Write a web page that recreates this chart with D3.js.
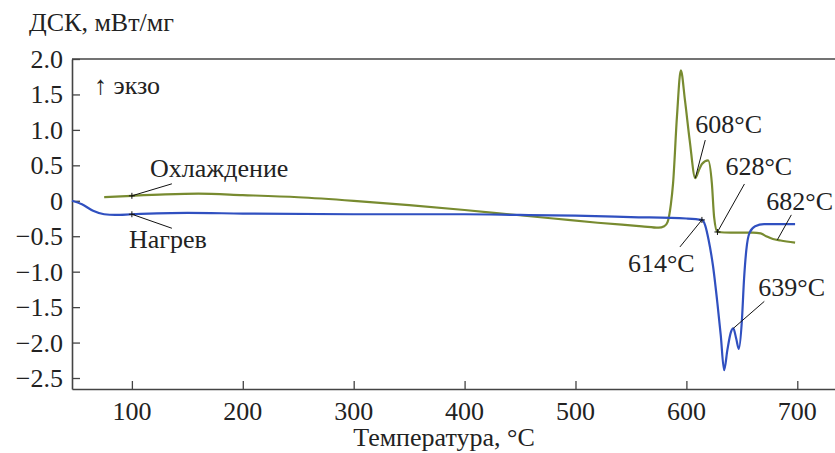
<!DOCTYPE html>
<html>
<head>
<meta charset="utf-8">
<script src="https://cdn.jsdelivr.net/npm/d3@7"></script>
<style>
  body { margin: 0; background: #fff; }
  text { fill: #222; }
</style>
</head>
<body>
<div id="chart"></div>
<script>
// cooling curve (green), temperature in °C and DSC signal in mW/mg
const coolT = [75, 100, 130, 160, 200, 250, 300, 350, 400, 440, 480, 520, 560, 575, 580, 583, 586, 588, 591.5, 595, 598.7, 603, 608, 611, 614, 619.6, 623, 625, 628, 640, 660, 667, 672, 678, 685, 698]
const coolV = [0.05, 0.07, 0.09, 0.1, 0.08, 0.05, 0.0, -0.06, -0.13, -0.19, -0.25, -0.31, -0.36, -0.38, -0.36, -0.3, -0.05, 0.25, 1.19, 1.84, 1.42, 0.85, 0.32, 0.42, 0.52, 0.57, 0.24, -0.23, -0.44, -0.45, -0.45, -0.46, -0.5, -0.54, -0.56, -0.59]

// heating curve (blue)
const heatT = [46, 55, 65, 75, 85, 100, 150, 200, 300, 400, 450, 500, 550, 600, 614, 617, 620, 624, 628, 631, 634, 637, 640, 642.3, 645, 647.3, 650, 652, 654, 657, 662, 670, 698]
const heatV = [0.0, -0.05, -0.14, -0.19, -0.2, -0.19, -0.17, -0.18, -0.19, -0.19, -0.2, -0.21, -0.23, -0.25, -0.27, -0.35, -0.55, -0.92, -1.45, -1.9, -2.39, -2.1, -1.86, -1.8, -1.95, -2.09, -1.7, -1.1, -0.7, -0.45, -0.36, -0.33, -0.33]

const xTicks = [100, 200, 300, 400, 500, 600, 700]
const yTicks = [2.0, 1.5, 1.0, 0.5, 0, -0.5, -1.0, -1.5, -2.0, -2.5]

// point labels: [curve, temperature, text]
const peakLabels = [
  ['cool', 608, '608°C'],
  ['cool', 628, '628°C'],
  ['cool', 682, '682°C'],
  ['heat', 614, '614°C'],
  ['heat', 642.3, '639°C']
]

const width = 835, height = 453
const margin = {top: 59, right: 0, bottom: 64, left: 72}
const font = '"Liberation Serif"'
const fs = 26

const svg = d3.select('#chart').append('svg')
  .attr('width', width)
  .attr('height', height)

const x = d3.scaleLinear().domain([46, 734]).range([margin.left, width - margin.right])
const y = d3.scaleLinear().domain([-2.655, 2.0]).range([height - margin.bottom, margin.top])

const fmtY = d => d === 0 ? '0' : d3.format('.1f')(d).replace('-', '\u2212')

// axes, tick labels are drawn as own texts below
const gx = svg.append('g')
  .attr('transform', `translate(0,${height - margin.bottom})`)
  .call(d3.axisBottom(x).tickValues(xTicks).tickFormat('').tickSizeInner(-8).tickSizeOuter(0))
const gy = svg.append('g')
  .attr('transform', `translate(${margin.left},0)`)
  .call(d3.axisLeft(y).tickValues(yTicks).tickFormat('').tickSizeInner(-8).tickSizeOuter(0))

;[gx, gy].forEach(g => {
  g.selectAll('.domain').attr('stroke', '#444').attr('stroke-width', 1.6)
  g.selectAll('.tick line').attr('stroke', '#444').attr('stroke-width', 1.3)
  g.selectAll('.tick text').remove()
})

function addText(tx, ty, str, anchor) {
  return svg.append('text')
    .attr('x', tx).attr('y', ty)
    .attr('text-anchor', anchor || 'start')
    .attr('font-size', fs)
    .style('font-family', font)
    .text(str)
}

xTicks.forEach(t => addText(x(t), height - margin.bottom + 31, String(t), 'middle'))
yTicks.forEach(v => addText(margin.left - 9, y(v) + 9, fmtY(v), 'end'))

// top frame line
svg.append('line')
  .attr('x1', margin.left).attr('x2', width)
  .attr('y1', y(2.0)).attr('y2', y(2.0))
  .attr('stroke', '#444').attr('stroke-width', 1.6)

const coolData = coolT.map((t, i) => ({t: t, v: coolV[i]}))
const heatData = heatT.map((t, i) => ({t: t, v: heatV[i]}))

const line = d3.line()
  .x(d => x(d.t))
  .y(d => y(d.v))
  .curve(d3.curveMonotoneX)

svg.append('path').datum(coolData)
  .attr('d', line)
  .attr('fill', 'none')
  .attr('stroke', '#788b30')
  .attr('stroke-width', 2.2)

svg.append('path').datum(heatData)
  .attr('d', line)
  .attr('fill', 'none')
  .attr('stroke', '#3050c0')
  .attr('stroke-width', 2.2)

function valueAt(data, t) {
  const i = d3.bisector(d => d.t).left(data, t)
  if (i <= 0) return data[0].v
  if (i >= data.length) return data[data.length - 1].v
  const a = data[i - 1], b = data[i]
  return a.v + (b.v - a.v) * (t - a.t) / (b.t - a.t)
}

// text placement offsets (px) relative to the marked point
const labelPos = {
  '608°C': {dx: 10, dy: -38, tx: 0, ty: -45},
  '628°C': {dx: 27, dy: -48, tx: 8, ty: -57},
  '682°C': {dx: 14, dy: -25, tx: -11, ty: -30},
  '614°C': {dx: -22, dy: 27, tx: -74, ty: 52},
  '639°C': {dx: 31, dy: -27, tx: 25, ty: -32}
}

peakLabels.forEach(([curve, t, label]) => {
  const data = curve === 'cool' ? coolData : heatData
  const px = x(t), py = y(valueAt(data, t))
  const p = labelPos[label]
  svg.append('line')
    .attr('x1', px).attr('y1', py)
    .attr('x2', px + p.dx).attr('y2', py + p.dy)
    .attr('stroke', '#111').attr('stroke-width', 1)
  addText(px + p.tx, py + p.ty, label)
})

// small cross markers at 100 °C and onsets
const marks = [[coolData, 100], [heatData, 100], [heatData, 614], [coolData, 628]]
marks.forEach(([data, t]) => {
  const px = x(t), py = y(valueAt(data, t))
  svg.append('path')
    .attr('d', `M${px - 3},${py}H${px + 3}M${px},${py - 3}V${py + 3}`)
    .attr('stroke', '#111').attr('stroke-width', 1)
})

// curve names
const c100 = y(valueAt(coolData, 100)), h100 = y(valueAt(heatData, 100))
svg.append('line').attr('x1', x(100)).attr('y1', c100).attr('x2', x(100) + 40).attr('y2', c100 - 12)
  .attr('stroke', '#111').attr('stroke-width', 1)
addText(150, 177, 'Охлаждение')
svg.append('line').attr('x1', x(100)).attr('y1', h100).attr('x2', x(100) + 40).attr('y2', h100 + 14)
  .attr('stroke', '#111').attr('stroke-width', 1)
addText(129, 248, 'Нагрев')

addText(94, 94, '↑ экзо')

// axis titles
addText(29, 31, 'ДСК, мВт/мг')
addText(444, 446, 'Температура, °C', 'middle')
</script>
</body>
</html>
